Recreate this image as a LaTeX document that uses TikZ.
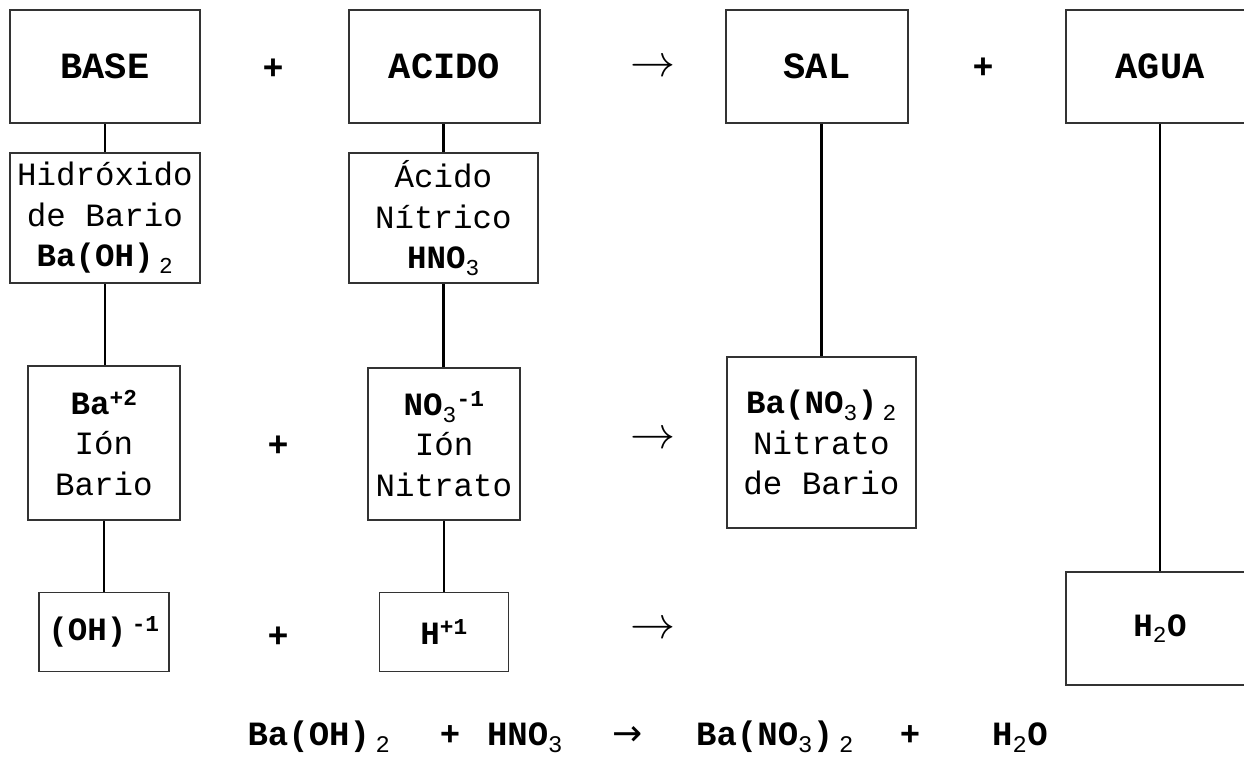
\documentclass[tikz,border=0pt]{standalone}
\usepackage{fontspec}
\usepackage{graphicx}
\setmainfont{Liberation Mono}
\newfontfamily\arrowfont{DejaVu Sans}
\begin{document}
\begin{tikzpicture}[x=1pt,y=-1pt,
  box/.style={draw=black!80, line width=1.8pt, rectangle, inner sep=0pt, align=center,
    font=\fontsize{32.5}{40.5}\selectfont},
  title/.style={box, minimum height=113pt, font=\fontsize{37}{40}\selectfont\bfseries},
  link/.style={line width=2.6pt, black},
  sym/.style={inner sep=0pt, font=\fontsize{35}{40}\selectfont\bfseries},
  arr/.style={inner sep=0pt, font=\fontsize{10}{12}\selectfont},
  eq/.style={inner sep=0pt, anchor=base, font=\fontsize{34}{40}\selectfont\bfseries},
]
\clip (0,0) rectangle (1244,756);
\useasboundingbox (0,0) rectangle (1244,756);

% top row
\node[title, minimum width=190pt] (base) at (105,66.5) {BASE};
\node[title, minimum width=191pt] (acido) at (444.5,66.5) {ACIDO};
\node[title, minimum width=182pt] (sal) at (817,66.5) {SAL};
\node[title, minimum width=188pt] (agua) at (1160,66.5) {AGUA};
\node[sym] (p1) at (273,69) {+};
\node[arr] (a1) at (653,68) {\scalebox{4.5}{$\rightarrow$}};
\node[sym] (p2) at (983,68) {+};

% second row
\node[box, minimum width=190pt, minimum height=130pt] (hid) at (105,218)
  {Hidróxido\\de Bario\\\textbf{Ba(OH)\,\textsubscript{\mdseries 2}}};
\node[box, minimum width=189pt, minimum height=130pt] (acid) at (443.5,218)
  {Ácido\\Nítrico\\\textbf{HNO\textsubscript{\mdseries 3}}};

% third row
\node[box, minimum width=152pt, minimum height=154pt] (ba2) at (104,443)
  {\textbf{Ba\textsuperscript{+2}}\\Ión\\Bario};
\node[box, minimum width=152pt, minimum height=152pt] (no3) at (444,444)
  {\textbf{NO\textsubscript{\mdseries 3}\textsuperscript{-1}}\\Ión\\Nitrato};
\node[box, minimum width=189pt, minimum height=171pt] (bano3) at (821.5,442.5)
  {\textbf{Ba(NO\textsubscript{\mdseries 3})\,\textsubscript{\mdseries 2}}\\Nitrato\\de Bario};
\node[sym] (p3) at (278,446) {+};
\node[arr] (a2) at (653,440) {\scalebox{4.5}{$\rightarrow$}};

% fourth row
\node[box, minimum width=130pt, minimum height=79pt] (oh) at (104,632)
  {\textbf{(OH)\,\textsuperscript{-1}}};
\node[box, minimum width=129pt, minimum height=79pt] (hp) at (444,632)
  {\textbf{H\textsuperscript{+1}}};
\node[box, minimum width=188pt, minimum height=113pt] (h2o) at (1160,628.5)
  {\textbf{H\textsubscript{\mdseries 2}O}};
\node[sym] (p4) at (278,637) {+};
\node[arr] (a3) at (653,630) {\scalebox{4.5}{$\rightarrow$}};

% connectors
\draw[link] (base.south) -- (base.south |- hid.north);
\draw[link] (hid.south) -- (hid.south |- ba2.north);
\draw[link] (ba2.south) -- (ba2.south |- oh.north);
\draw[link] (acid.north |- acido.south) -- (acid.north);
\draw[link] (acid.south) -- (acid.south |- no3.north);
\draw[link] (no3.south) -- (no3.south |- hp.north);
\draw[link] (bano3.north |- sal.south) -- (bano3.north);
\draw[link] (agua.south) -- (agua.south |- h2o.north);

% bottom equation
\node[eq] (e1) at (319,745) {Ba(OH)\,\textsubscript{\mdseries 2}};
\node[eq] (e2) at (450,745) {+};
\node[eq] (e3) at (525,745) {HNO\textsubscript{\mdseries 3}};
\node[eq, font=\fontsize{36}{40}\selectfont\arrowfont] (e4) at (628,745) {→};
\node[eq] (e5) at (775,745) {Ba(NO\textsubscript{\mdseries 3})\,\textsubscript{\mdseries 2}};
\node[eq] (e6) at (910,745) {+};
\node[eq] (e7) at (1020,745) {H\textsubscript{\mdseries 2}O};
\end{tikzpicture}
\end{document}
